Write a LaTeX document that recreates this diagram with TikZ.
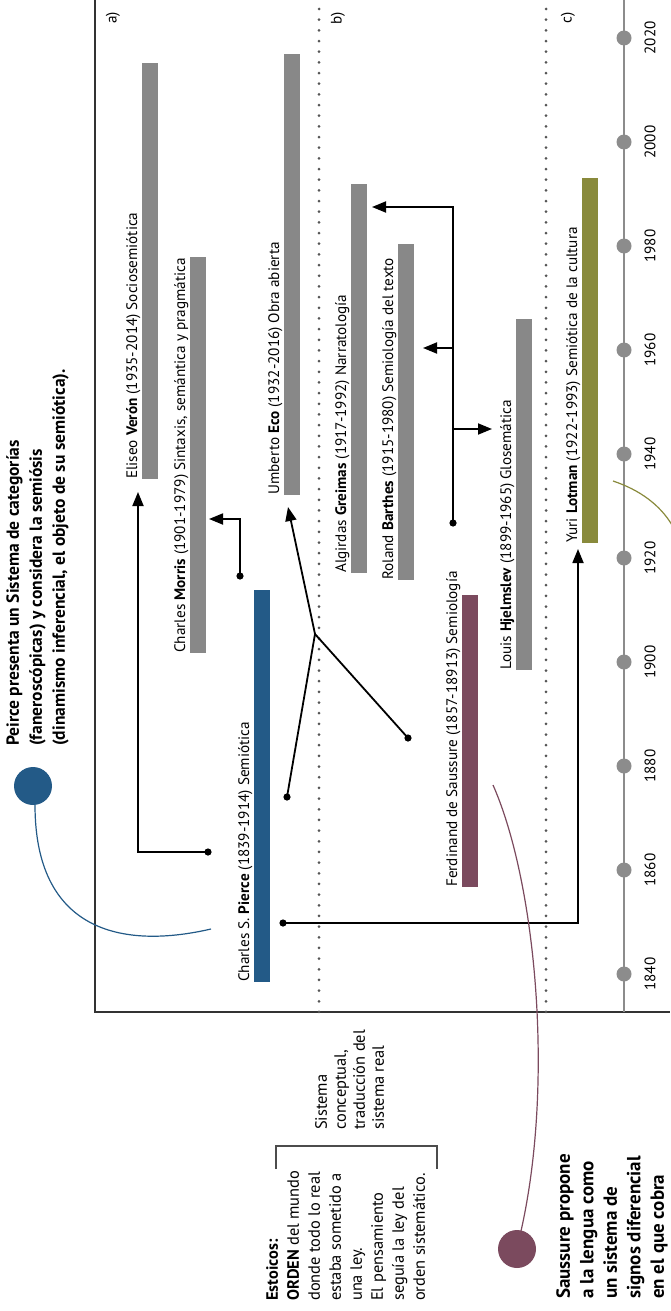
\documentclass[tikz,border=0pt]{standalone}
\usepackage{fontspec}
\setmainfont{PT Sans}
\usetikzlibrary{arrows.meta, positioning, calc}

\definecolor{barGray}{HTML}{888888}
\definecolor{peirceBlue}{HTML}{235A87}
\definecolor{saussureRed}{HTML}{7B4A5E}
\definecolor{lotmanOlive}{HTML}{898A3C}
\definecolor{axisGray}{HTML}{8C8C8C}
\definecolor{dotGray}{HTML}{555555}

\tikzset{
  bar/.style={rectangle, inner sep=0pt, minimum width=16pt, anchor=south west, fill=barGray},
  lbl/.style={rotate=90, anchor=base west, inner sep=0pt, font=\fontsize{15.2}{18}\selectfont},
  note/.style={rotate=90, anchor=north west, inner sep=0pt, align=left},
  conn/.style={line width=1.8pt, -{Triangle[length=14pt, width=11pt]}},
  link/.style={line width=1.8pt},
  dotline/.style={dotGray, line width=3pt, line cap=round, dash pattern=on 0pt off 10.67pt},
}

\begin{document}
\begin{tikzpicture}[x=1pt, y=-1pt]
  \useasboundingbox (0,0) rectangle (670,1311);
  % frame, sections and time axis
  \draw[line width=1.5pt, black!80] (95,0) -- (95,1012) -- (670,1012);
  \draw[dotline] (319,9) -- (319,1012);
  \draw[dotline] (546,9) -- (546,1012);
  \node[lbl, anchor=center] (secA) at (113,18) {a)};
  \node[lbl, anchor=center] (secB) at (338,18) {b)};
  \node[lbl, anchor=center] (secC) at (568,18) {c)};
  \draw[axisGray, line width=2.5pt] (624,0) -- (624,1012);
  \foreach \a in {1840,1860,...,2020} {
    \fill[axisGray] (624,{38+5.2*(2020-\a)}) circle (7.5pt);
    \node[lbl, anchor=center] (y\a) at (650,{38+5.2*(2020-\a)}) {\a};
  }

  % bars
  \node[bar, fill=peirceBlue, minimum height=392pt] (pierce) at (254,982) {};
  \node[bar, fill=saussureRed, minimum height=292pt] (saussure) at (462,887) {};
  \node[bar, minimum height=396pt] (morris) at (190,653) {};
  \node[bar, minimum height=416pt] (veron) at (142,479) {};
  \node[bar, minimum height=441pt] (eco) at (284,495) {};
  \node[bar, minimum height=389pt] (greimas) at (351,573) {};
  \node[bar, minimum height=336pt] (barthes) at (398,580) {};
  \node[bar, minimum height=351pt] (hjelmslev) at (516,670) {};
  \node[bar, fill=lotmanOlive, minimum height=365pt] (lotman) at (582,543) {};

  \node[lbl] (pierceLbl) at ([xshift=-5pt]pierce.south west) {Charles S. \textbf{Pierce} (1839-1914) Semiótica};
  \node[lbl] (saussureLbl) at ([xshift=-5pt]saussure.south west) {Ferdinand de Saussure (1857-18913) Semiología};
  \node[lbl] (morrisLbl) at ([xshift=-5pt]morris.south west) {Charles \textbf{Morris} (1901-1979) Sintaxis, semántica y pragmática};
  \node[lbl] (veronLbl) at ([xshift=-5pt]veron.south west) {Eliseo \textbf{Verón} (1935-2014) Sociosemiótica};
  \node[lbl] (ecoLbl) at ([xshift=-5pt]eco.south west) {Umberto \textbf{Eco} (1932-2016) Obra abierta};
  \node[lbl] (greimasLbl) at ([xshift=-5pt]greimas.south west) {Algirdas \textbf{Greimas} (1917-1992) Narratología};
  \node[lbl] (barthesLbl) at ([xshift=-5pt]barthes.south west) {Roland \textbf{Barthes} (1915-1980) Semiología del texto};
  \node[lbl] (hjelmslevLbl) at ([xshift=-5pt]hjelmslev.south west) {Louis \textbf{Hjelmslev} (1899-1965) Glosemática};
  \node[lbl] (lotmanLbl) at ([xshift=-5pt]lotman.south west) {Yuri \textbf{Lotman} (1922-1993) Semiótica de la cultura};

  % connectors
  \coordinate (pDotA) at (208,852);
  \coordinate (pDotB) at (287,797);
  \coordinate (pDotC) at (283,923);
  \coordinate (mDot) at (240,576);
  \coordinate (sDot) at (408,738);
  \coordinate (hDot) at (453,523);
  \coordinate (join) at (315,634);
  \coordinate (toVeron) at (138,492);
  \coordinate (toMorris) at (209,519);
  \coordinate (toEco) at (288,507);
  \coordinate (toGreimas) at (372,207);
  \coordinate (toBarthes) at (423,348);
  \coordinate (toHjelmslev) at (492,429);
  \coordinate (toLotman) at (578,549);
  \foreach \d in {pDotA,pDotB,pDotC,mDot,sDot,hDot} \fill (\d) circle (3.6pt);
  \draw[conn] (pDotA) -| (toVeron);
  \draw[conn] (mDot) |- (toMorris);
  \draw[link] (pDotB) -- (join) -- (sDot);
  \draw[conn] (join) -- (toEco);
  \draw[conn] (hDot) |- (toGreimas);
  \draw[conn] (hDot |- toBarthes) -- (toBarthes);
  \draw[conn] (hDot |- toHjelmslev) -- (toHjelmslev);
  \draw[conn] (pDotC) -| (toLotman);

  % callouts
  \fill[peirceBlue] (33,786) circle (19pt);
  \draw[peirceBlue, line width=1.2pt] (35,805) .. controls (35,930) and (120,950) .. (211,929);
  \node[note, font=\bfseries\fontsize{17.5}{23}\selectfont] (peirceNote) at (6,746)
    {Peirce presenta un Sistema de categorías\\(faneroscópicas) y considera la semiósis\\(dinamismo inferencial, el objeto de su semiótica).};
  \fill[saussureRed] (517,1249) circle (19pt);
  \draw[saussureRed, line width=1.2pt] (493,785) .. controls (535,880) and (555,1080) .. (521,1231);
  \node[note, font=\bfseries\fontsize{19}{23.5}\selectfont] (saussureNote) at (556,1299)
    {Saussure propone\\a la lengua como\\un sistema de\\signos diferencial\\en el que cobra};
  \draw[lotmanOlive, line width=1.2pt] (613,481) .. controls (640,490) and (660,505) .. (672,525);

  % stoics
  \draw[line width=1.5pt, black!70] (276,1169) -- (276,1146) -- (437,1146) -- (437,1169);
  \node[note, font=\fontsize{16.4}{21}\selectfont] (estoicos) at (266,1301)
    {\textbf{Estoicos:}\\\textbf{ORDEN} del mundo\\donde todo lo real\\estaba sometido a\\una ley.\\El pensamiento\\seguía la ley del\\orden sistemático.};
  \node[note, font=\fontsize{16.4}{19}\selectfont] (sistema) at (315,1130)
    {Sistema\\conceptual,\\traducción del\\sistema real};
\end{tikzpicture}
\end{document}
